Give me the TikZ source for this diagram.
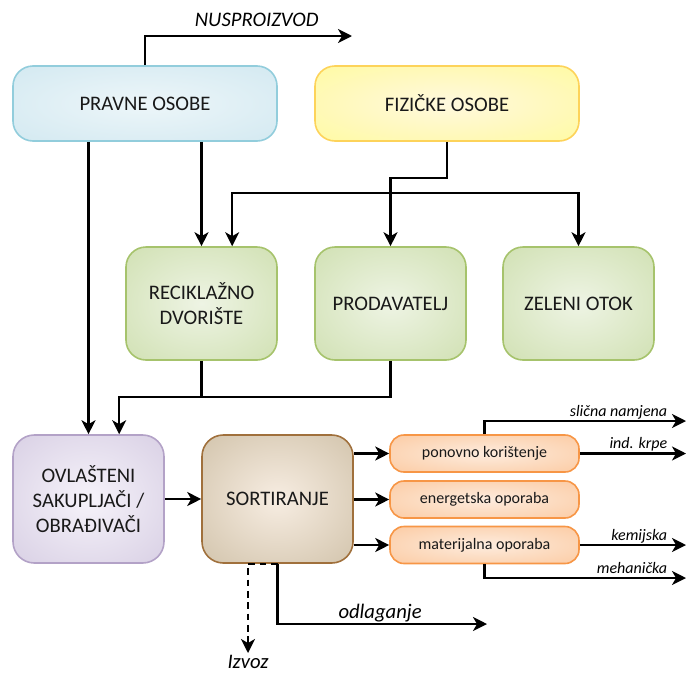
\documentclass[tikz,border=0pt]{standalone}
\usepackage{fontspec}
\setmainfont{Carlito}
\usetikzlibrary{arrows.meta}

\pgfdeclareradialshading[glowin,glowout]{glow}{\pgfpoint{0bp}{0bp}}{color(0bp)=(glowin);color(50bp)=(glowout);color(72bp)=(glowout)}

\definecolor{blueline}{HTML}{92CDDC}
\definecolor{bluein}{HTML}{EDF6F9}
\definecolor{blueout}{HTML}{C9E4EE}
\definecolor{yellowline}{HTML}{FDD35A}
\definecolor{yellowin}{HTML}{FFF9DE}
\definecolor{yellowout}{HTML}{FFFA8C}
\definecolor{greenline}{HTML}{A6C36C}
\definecolor{greenin}{HTML}{EEF4E4}
\definecolor{greenout}{HTML}{C5D9A0}
\definecolor{purpleline}{HTML}{B3A2C7}
\definecolor{purplein}{HTML}{F6F3FA}
\definecolor{purpleout}{HTML}{CDC2DC}
\definecolor{brownline}{HTML}{A0703C}
\definecolor{brownin}{HTML}{F7EDE2}
\definecolor{brownout}{HTML}{C4B497}
\definecolor{orangeline}{HTML}{F79646}
\definecolor{orangein}{HTML}{FDECDE}
\definecolor{orangeout}{HTML}{FBBE8C}

\begin{document}
\begin{tikzpicture}[x=0.75pt,y=-0.75pt,
    glow/.style 2 args={shading=glow,/utils/exec={\colorlet{glowin}{#1}\colorlet{glowout}{#2}}},
    box/.style={draw,line width=1.2pt,rounded corners=15pt,align=center,inner sep=0pt,
      text=black!90,font=\fontsize{15.5}{18.75}\selectfont},
    topbox/.style={box,minimum width=198pt,minimum height=56.25pt},
    greenbox/.style={box,minimum width=113.25pt,minimum height=84.75pt,draw=greenline,glow={greenin}{greenout}},
    lowbox/.style={box,minimum width=113.25pt,minimum height=96pt,rounded corners=16pt},
    usebox/.style={box,minimum width=141.75pt,minimum height=27.75pt,rounded corners=10.5pt,
      draw=orangeline,glow={orangein}{orangeout},font=\fontsize{12}{14}\selectfont},
    arr/.style={-{Stealth[length=10.5pt,width=10.5pt,inset=3pt]},line width=1.6pt},
    lbl/.style={font=\itshape\fontsize{15.5}{18}\selectfont,anchor=base},
    outlbl/.style={font=\itshape\fontsize{12}{14}\selectfont,anchor=base east,xshift=-10pt,yshift=3.5pt}]
  \useasboundingbox (0,0) rectangle (688,675);

  \node[topbox,draw=blueline,glow={bluein}{blueout}] (pravne) at (145,103.5) {PRAVNE OSOBE};
  \node[topbox,draw=yellowline,glow={yellowin}{yellowout}] (fizicke) at (447,103.5) {FIZIČKE OSOBE};
  \node[greenbox] (reciklazno) at (201.5,303.5) {RECIKLAŽNO\\DVORIŠTE};
  \node[greenbox] (prodavatelj) at (390.5,303.5) {PRODAVATELJ};
  \node[greenbox] (zeleni) at (578.5,303.5) {ZELENI OTOK};
  \node[lowbox,draw=purpleline,glow={purplein}{purpleout}] (ovlasteni) at (88.5,499) {OVLAŠTENI\\SAKUPLJAČI /\\OBRAĐIVAČI};
  \node[lowbox,draw=brownline,glow={brownin}{brownout}] (sortiranje) at (277.5,499) {SORTIRANJE};
  \node[usebox] (ponovno) at (484.5,453.5) {ponovno korištenje};
  \node[usebox] (energetska) at (484.5,499.5) {energetska oporaba};
  \node[usebox] (materijalna) at (484.5,545) {materijalna oporaba};

  \coordinate (nus) at (352,36);
  \coordinate (slicna) at (686,421);
  \coordinate (krpe) at (686,453.5);
  \coordinate (kemijska) at (686,545);
  \coordinate (mehanicka) at (686,578);
  \coordinate (odl) at (487,624);
  \coordinate (izvoz) at (248,653);
  \coordinate (bus) at ([yshift=39.75pt]prodavatelj.north);
  \coordinate (merge) at ([yshift=-27pt]reciklazno.south);

  \draw[arr] (pravne.north) |- (nus) node[lbl,pos=0.77,yshift=7pt] {NUSPROIZVOD};
  \draw[arr] (pravne.south -| ovlasteni.north) -- (ovlasteni.north);
  \draw[arr] (pravne.south -| reciklazno.north) -- (reciklazno.north);
  \draw[arr] (fizicke.south) -- ++(0,36) -| (prodavatelj.north);
  \draw[arr] (bus) -| ([xshift=23pt]reciklazno.north);
  \draw[arr] (bus) -| (zeleni.north);
  \draw[line width=1.6pt] (reciklazno.south) -- (merge);
  \draw[arr] (prodavatelj.south) |- (merge) -| ([xshift=23pt]ovlasteni.north);
  \draw[arr] (ovlasteni) -- (sortiranje);
  \foreach \use in {ponovno,energetska,materijalna}
    \draw[arr] (sortiranje.east |- \use.west) -- (\use.west);
  \draw[arr] (ponovno.north) |- (slicna) node[outlbl,pos=1] {slična namjena};
  \draw[arr] (ponovno.east) -- (krpe) node[outlbl,pos=1] {ind. krpe};
  \draw[arr] (materijalna.east) -- (kemijska) node[outlbl,pos=1] {kemijska};
  \draw[arr] (materijalna.south) |- (mehanicka) node[outlbl,pos=1] {mehanička};
  \draw[arr] (sortiranje.south) |- (odl) node[lbl,pos=0.745,yshift=4.5pt] {odlaganje};
  \draw[arr,dashed,dash pattern=on 5pt off 3.5pt] (sortiranje.south) -- (sortiranje.south -| izvoz) -- (izvoz)
    node[lbl,anchor=north,inner sep=1pt] {Izvoz};
\end{tikzpicture}
\end{document}
